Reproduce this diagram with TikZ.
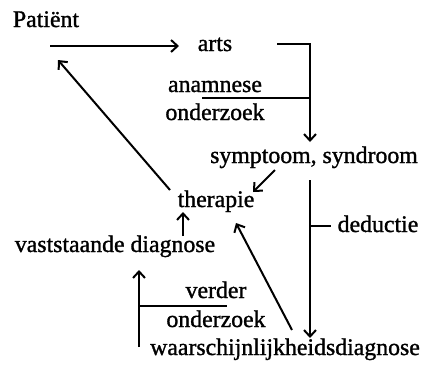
\documentclass[tikz,border=0pt]{standalone}
\usepackage{fontspec}
\setmainfont{Liberation Serif}[RawFeature={embolden=1.2}]
\usetikzlibrary{arrows.meta}
\begin{document}
\begin{tikzpicture}[x=1pt,y=-1pt,
  lbl/.style={inner sep=0pt,anchor=base,font=\fontsize{23.8}{28}\selectfont},
  ln/.style={line width=2pt},
  arr/.style={ln,-{Straight Barb[length=6.5pt,width=12pt,line width=2pt]}}]
\useasboundingbox (0,0) rectangle (424,373);
\node[lbl] (pat) at (46,27) {Patiënt};
\node[lbl] (arts) at (215,51) {arts};
\node[lbl] (anam) at (215,92) {anamnese};
\node[lbl] (ond1) at (215,120) {onderzoek};
\node[lbl] (sym) at (314,163) {symptoom, syndroom};
\node[lbl] (ther) at (216,207) {therapie};
\node[lbl] (ded) at (378,232) {deductie};
\node[lbl] (vast) at (115,252) {vaststaande diagnose};
\node[lbl] (verd) at (216,298) {verder};
\node[lbl] (ond2) at (216,327) {onderzoek};
\node[lbl] (waar) at (285,355) {waarschijnlijkheidsdiagnose};
% coordinates
\coordinate (p1) at (50,46);
\coordinate (p2) at (179,46);
\coordinate (c1) at (277,44);
\coordinate (c2) at (310,44);
\coordinate (c3) at (310,142);
\coordinate (h1) at (202,98);
\coordinate (h2) at (310,98);
\coordinate (d1) at (310,180);
\coordinate (d2) at (310,338);
\coordinate (dt) at (331,226);
\coordinate (dm) at (310,226);
\coordinate (s1) at (275,170);
\coordinate (s2) at (253,192);
\coordinate (t1) at (170,190);
\coordinate (t2) at (58,60);
\coordinate (v1) at (183,236);
\coordinate (v2) at (183,212);
\coordinate (w1) at (292,330);
\coordinate (w2) at (236,223);
\coordinate (u1) at (139,347);
\coordinate (u2) at (139,270);
\coordinate (k1) at (139,306);
\coordinate (k2) at (227,306);
% connectors
\draw[arr] (p1) -- (p2);
\draw[arr] (c1) -- (c2) -- (c3);
\draw[ln] (h1) -- (h2);
\draw[arr] (d1) -- (d2);
\draw[ln] (dm) -- (dt);
\draw[arr] (s1) -- (s2);
\draw[arr] (t1) -- (t2);
\draw[arr] (v1) -- (v2);
\draw[arr] (w1) -- (w2);
\draw[arr] (u1) -- (u2);
\draw[ln] (k1) -- (k2);
\end{tikzpicture}
\end{document}
